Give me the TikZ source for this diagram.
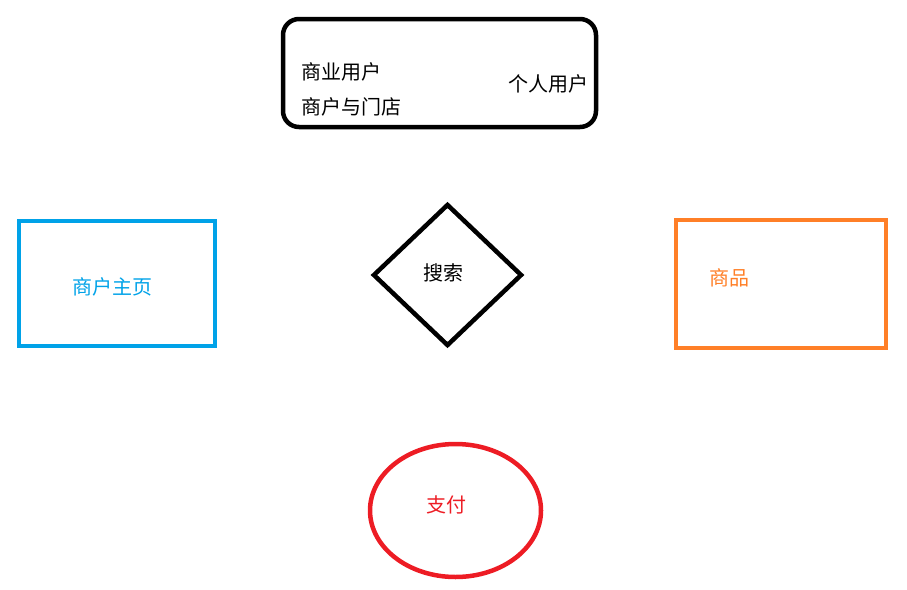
\documentclass[tikz,border=0pt]{standalone}
\usepackage{fontspec}
\setmainfont{Noto Sans CJK SC}
\usetikzlibrary{shapes.geometric}
\definecolor{paintblue}{RGB}{0,162,232}
\definecolor{paintorange}{RGB}{255,127,39}
\definecolor{paintred}{RGB}{237,28,36}
\tikzset{
  thickline/.style={draw,line width=4.5pt,inner sep=0pt},
  cjktext/.style={font=\fontsize{20}{24}\selectfont,inner sep=0pt},
}
\begin{document}
\begin{tikzpicture}[x=1pt,y=-1pt]
			\useasboundingbox (0,0) rectangle (907,589);
			% top box with the users
			\node[thickline,rounded corners=16pt,minimum width=313pt,minimum height=108pt] (users) at (439.5,73) {};
			\node[cjktext,anchor=west] (business) at (301,72) {商业用户};
			\node[cjktext,anchor=west] (stores) at (301,107) {商户与门店};
			\node[cjktext] (personal) at (548,84) {个人用户};
			% the four shapes
			\node[thickline,paintblue,minimum width=196pt,minimum height=125pt] (shoppage) at (117,283.5) {};
			\node[cjktext,text=paintblue] (shoplabel) at (112.5,287) {商户主页};
			\node[thickline,diamond,minimum width=149pt,minimum height=142pt] (search) at (447.5,275) {};
			\node[cjktext] (searchlabel) at (443,273) {搜索};
			\node[thickline,paintorange,minimum width=210pt,minimum height=128pt] (goods) at (781,284) {};
			\node[cjktext,text=paintorange] (goodslabel) at (729,278) {商品};
			\node[thickline,ellipse,paintred,minimum width=171pt,minimum height=133pt] (pay) at (455.5,510.5) {};
			\node[cjktext,text=paintred] (paylabel) at (446,505) {支付};
		\end{tikzpicture}
\end{document}
